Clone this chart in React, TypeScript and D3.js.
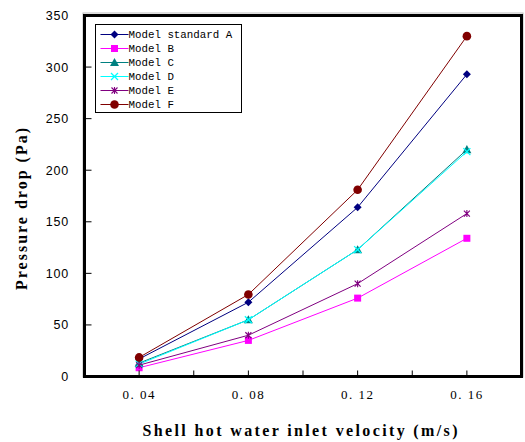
import React from "react";
import * as d3 from "d3";

const velocities = [0.04, 0.08, 0.12, 0.16];
const seriesNames = ["Model standard A", "Model B", "Model C", "Model D", "Model E", "Model F"];
const modelA = [17, 72, 164, 293];
const modelB = [8.5, 35, 76, 134];
const modelC = [13, 55, 123, 220];
const modelD = [12, 55, 123, 218];
const modelE = [11, 40, 90, 158];
const modelF = [18.5, 79.5, 181, 330];
const seriesColors = ["#000080", "#FF00FF", "#008080", "#00FFFF", "#800080", "#800000"];
const seriesMarkers = ["diamond", "square", "triangle", "x", "star", "circle"];
const xTicks = [0.04, 0.08, 0.12, 0.16];
const xMinorTicks = [0.02, 0.04, 0.06, 0.08, 0.1, 0.12, 0.14, 0.16, 0.18];
const yTicks = [0, 50, 100, 150, 200, 250, 300, 350];

const allSeries = [modelA, modelB, modelC, modelD, modelE, modelF];

function Marker({ type, x, y, color }: { type: string; x: number; y: number; color: string }) {
  if (type === "diamond") {
    const s = 4;
    return <path d={`M${x},${y - s}L${x + s},${y}L${x},${y + s}L${x - s},${y}Z`} fill={color} />;
  }
  if (type === "square") {
    return <rect x={x - 3.5} y={y - 3.5} width={7} height={7} fill={color} />;
  }
  if (type === "triangle") {
    const s = 4.5;
    return <path d={`M${x},${y - s}L${x + s},${y + s * 0.8}L${x - s},${y + s * 0.8}Z`} fill={color} />;
  }
  if (type === "x") {
    const s = 3.5;
    return (
      <path d={`M${x - s},${y - s}L${x + s},${y + s}M${x - s},${y + s}L${x + s},${y - s}`} stroke={color} strokeWidth={1.3} fill="none" />
    );
  }
  if (type === "star") {
    const s = 3;
    return (
      <path
        d={`M${x - s},${y - s}L${x + s},${y + s}M${x - s},${y + s}L${x + s},${y - s}M${x},${y - s - 0.5}L${x},${y + s + 0.5}`}
        stroke={color}
        strokeWidth={1.1}
        fill="none"
      />
    );
  }
  return <circle cx={x} cy={y} r={4.3} fill={color} />;
}

export default function App() {
  const width = 525;
  const height = 442;
  const left = 84.5;
  const right = 521.5;
  const top = 15.5;
  const bottom = 376.5;

  const x = d3.scaleLinear().domain([0.02, 0.18]).range([left, right]);
  const y = d3.scaleLinear().domain([0, 350]).range([bottom, top]);
  const line = d3
    .line<number>()
    .x((_, i) => x(velocities[i]))
    .y((d) => y(d));

  const legendX = 95.5;
  const legendY = 24.5;

  return (
    <svg width={width} height={height} style={{ position: "absolute", left: 0, top: 0, background: "#fff" }}>
      <rect x={0} y={0} width={width} height={height} fill="#fff" />
      {allSeries.map((vals, si) => (
        <g key={si}>
          <path d={line(vals) || ""} fill="none" stroke={seriesColors[si]} strokeWidth={1} />
          {vals.map((v, i) => (
            <Marker key={i} type={seriesMarkers[si]} x={x(velocities[i])} y={y(v)} color={seriesColors[si]} />
          ))}
        </g>
      ))}
      {yTicks.map((t) => (
        <g key={t}>
          <line x1={left} x2={left + 7} y1={y(t)} y2={y(t)} stroke="#000" strokeWidth={1} />
          <text
            x={69}
            y={y(t) + 4.5}
            textAnchor="end"
            fontFamily="Liberation Sans, Arial, sans-serif"
            fontSize={12.5}
            letterSpacing={0.8}
            fill="#000"
          >
            {t}
          </text>
        </g>
      ))}
      {xMinorTicks.map((t) => (
        <line key={t} x1={x(t)} x2={x(t)} y1={bottom} y2={bottom - 6} stroke="#000" strokeWidth={1} />
      ))}
      {xTicks.map((t) => (
        <text
          key={t}
          x={x(t)}
          y={399}
          textAnchor="middle"
          fontFamily="Liberation Serif, serif"
          fontSize={13}
          letterSpacing={1.5}
          fill="#000"
        >
          {t.toFixed(2).replace(".", ". ")}
        </text>
      ))}
      <rect x={left - 1.5} y={top - 2.5} width={right - left + 3} height={bottom - top + 3} fill="none" stroke="#bbb" strokeWidth={1} />
      <rect x={left} y={top} width={right - left} height={bottom - top} fill="none" stroke="#000" strokeWidth={3} />
      <rect x={legendX} y={legendY} width={146} height={88} fill="#fff" stroke="#000" strokeWidth={1} />
      {seriesNames.map((name, i) => {
        const ly = legendY + 10 + i * 14;
        return (
          <g key={name}>
            <line x1={legendX + 5} x2={legendX + 33} y1={ly} y2={ly} stroke={seriesColors[i]} strokeWidth={1} />
            <Marker type={seriesMarkers[i]} x={legendX + 19} y={ly} color={seriesColors[i]} />
            <text x={legendX + 33} y={ly + 3.5} fontFamily="Liberation Mono, monospace" fontSize={10.8} fill="#000">
              {name}
            </text>
          </g>
        );
      })}
      <text
        x={300}
        y={436}
        textAnchor="middle"
        fontFamily="Liberation Serif, serif"
        fontWeight="bold"
        fontSize={16}
        textLength={315}
        lengthAdjust="spacing"
        fill="#000"
      >
        Shell hot water inlet velocity (m/s)
      </text>
      <text
        transform={`translate(27,209) rotate(-90)`}
        textAnchor="middle"
        fontFamily="Liberation Serif, serif"
        fontWeight="bold"
        fontSize={16}
        textLength={162}
        lengthAdjust="spacing"
        fill="#000"
      >
        Pressure drop (Pa)
      </text>
    </svg>
  );
}
